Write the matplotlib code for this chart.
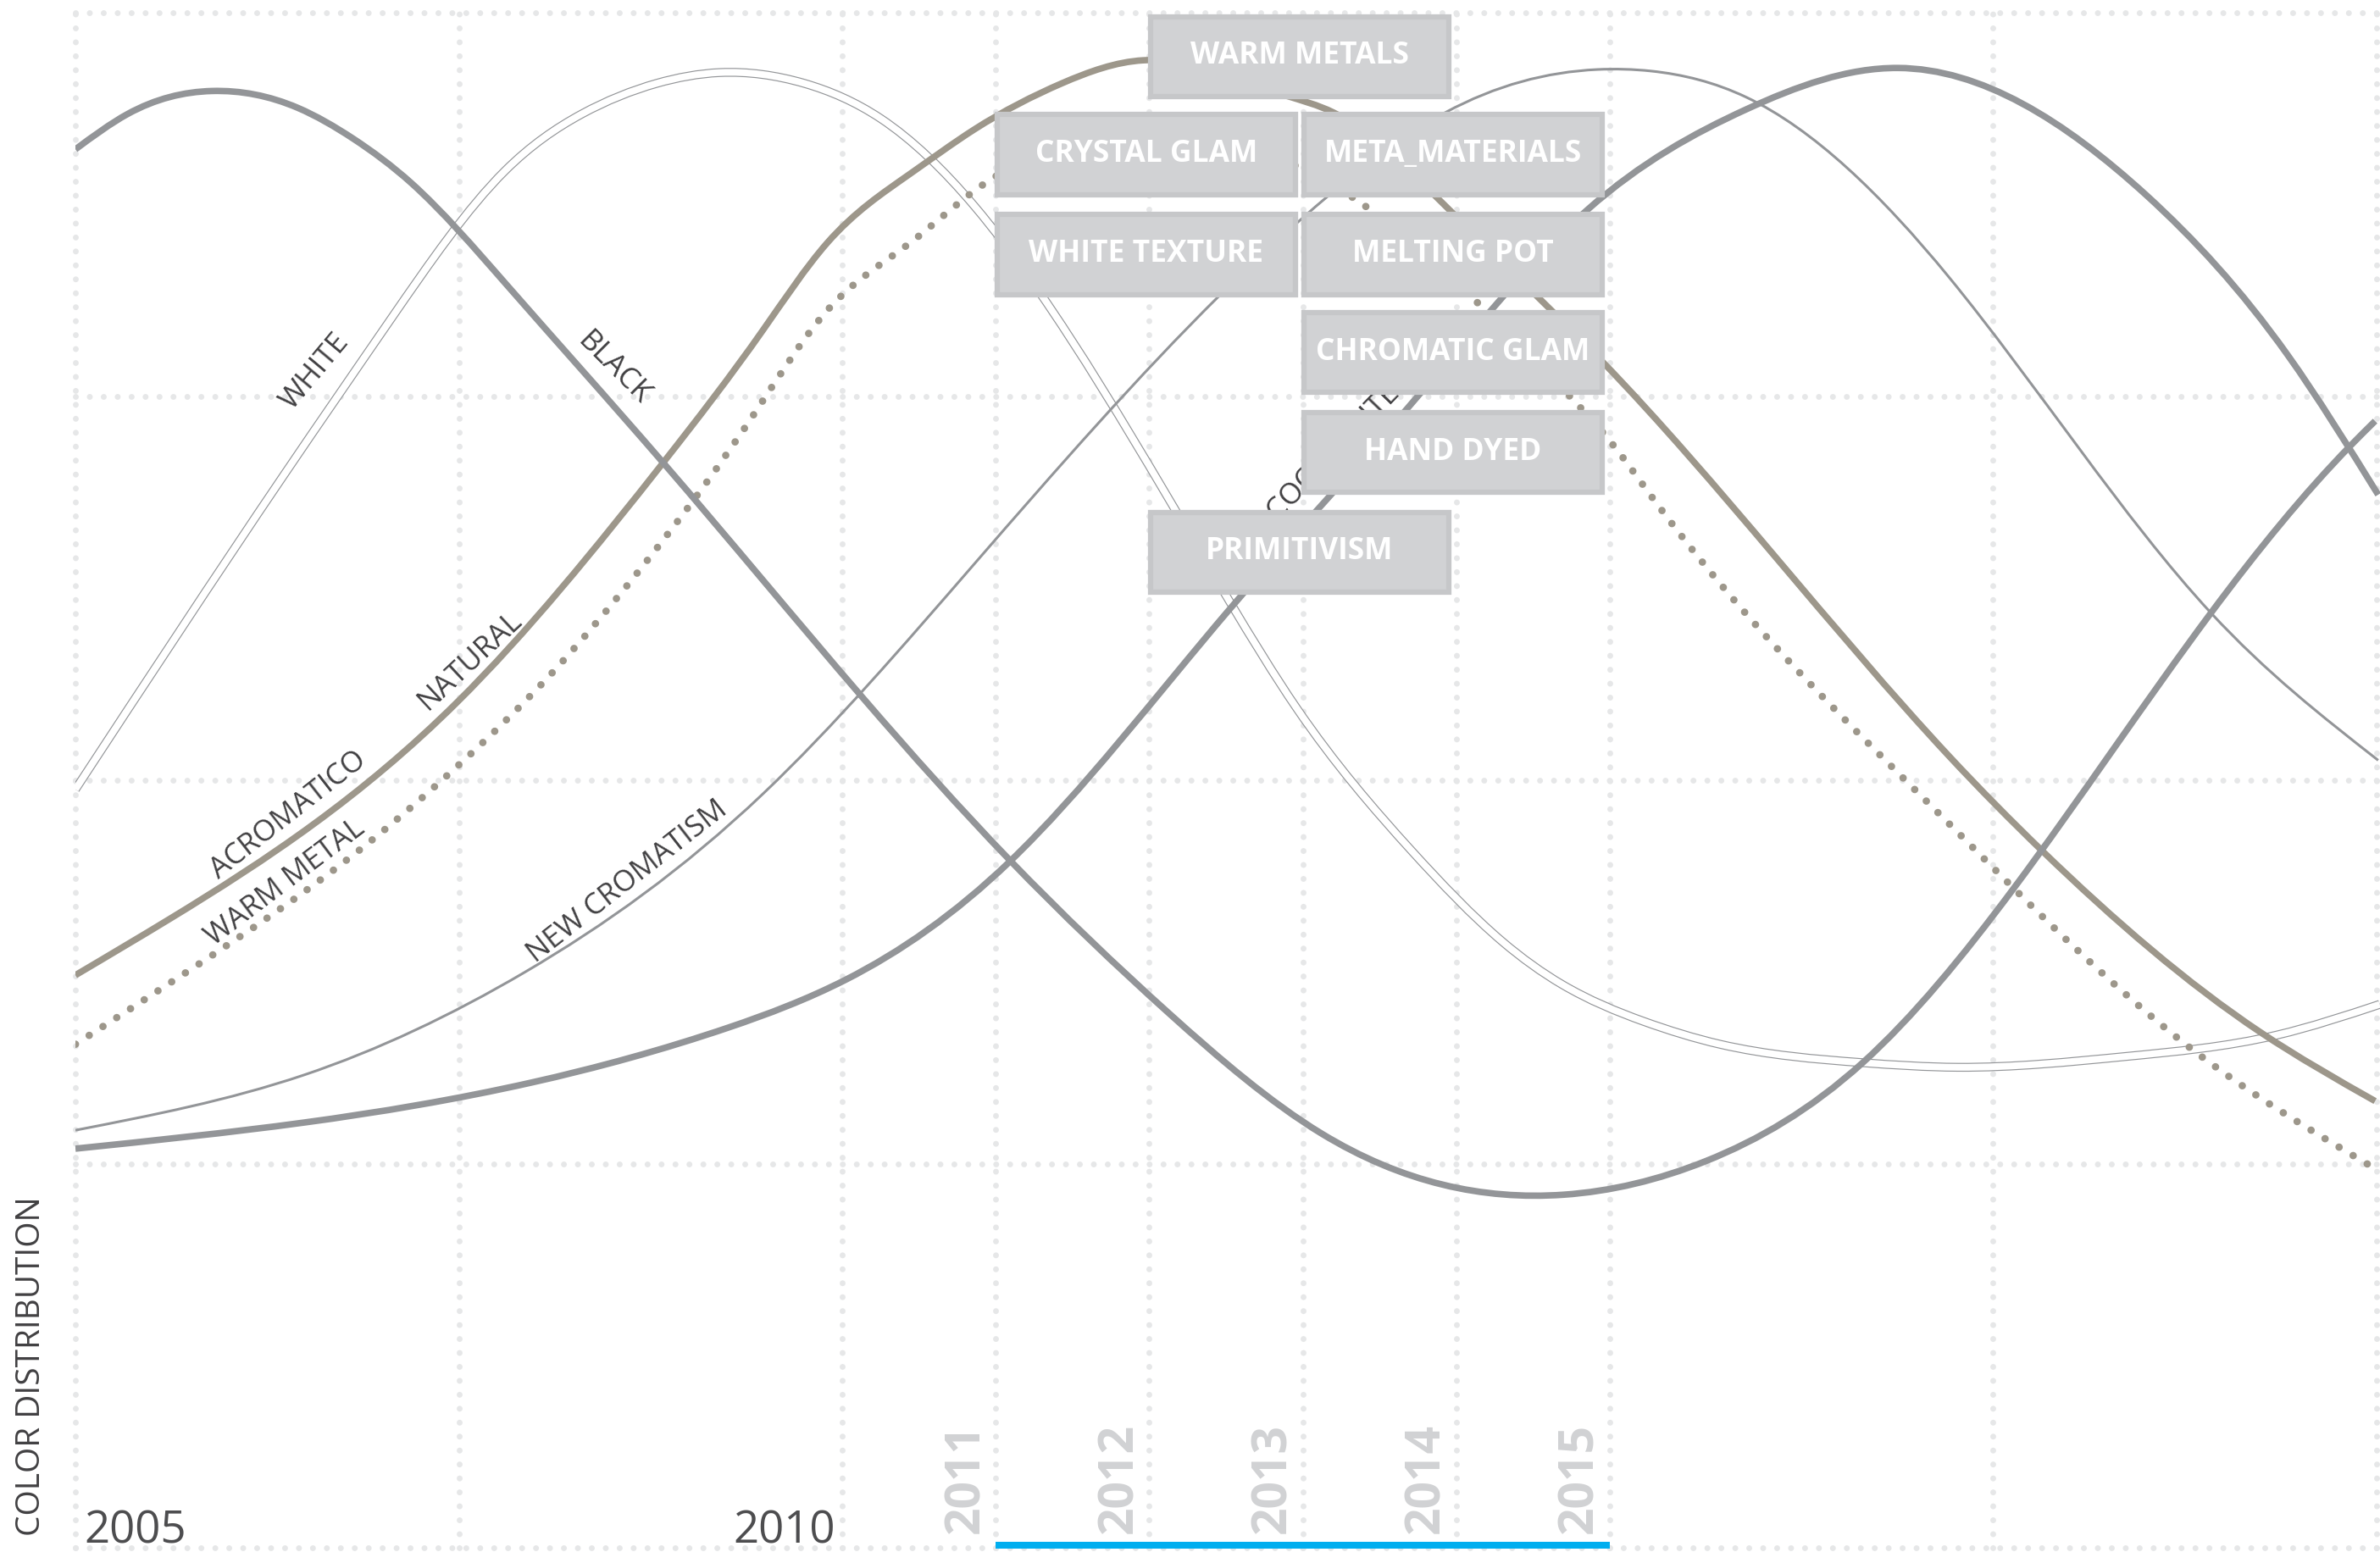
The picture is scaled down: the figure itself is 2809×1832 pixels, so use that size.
"""Color distribution trend chart, 2005-2020."""

import numpy as np
import matplotlib
matplotlib.use("Agg")
from matplotlib import pyplot as plt
from matplotlib.path import Path
from matplotlib.patches import PathPatch, Rectangle
import matplotlib.transforms as mtransforms

plt.rcParams['font.family'] = ['Open Sans', 'DejaVu Sans']

# ---- data (year, share of color distribution 0-100) ----
black_x = [2005.0, 2005.34, 2005.89, 2006.45, 2006.81, 2007.19, 2007.80, 2008.83, 2010.13,
           2011.09, 2012.13, 2013.12, 2014.70, 2015.63, 2016.65, 2017.63, 2018.92,
           2019.83, 2019.99]
black_y = [91.1, 93.4, 94.9, 93.8, 91.8, 88.9, 82.4, 70.7, 55.4,
           44.8, 34.8, 27.0, 23.0, 25.2, 31.6, 42.9, 60.9,
           71.8, 73.4]

white_x = [2005.0, 2006.36, 2007.06, 2007.80, 2008.30, 2008.79, 2009.20, 2009.75, 2010.25,
           2010.86, 2012.52, 2012.96, 2013.71, 2014.30, 2014.69, 2015.22, 2015.72, 2016.65,
           2017.27, 2018.36, 2019.35, 2020.02]
white_y = [49.4, 69.9, 80.1, 89.7, 93.4, 95.4, 96.1, 95.4, 93.1,
           87.4, 61.7, 54.7, 45.4, 39.5, 36.7, 34.3, 32.8, 31.6,
           31.3, 32.0, 33.4, 35.4]

natural_x = [2005.0, 2005.62, 2007.49, 2008.84, 2009.48, 2009.90, 2010.44, 2010.86, 2011.43,
             2011.96, 2012.89, 2013.20, 2013.85, 2014.52, 2014.95, 2017.21, 2017.82,
             2019.24, 2019.99]
natural_y = [37.3, 41.0, 55.1, 70.8, 79.3, 85.0, 89.5, 92.4, 95.4,
             96.9, 94.6, 93.5, 88.2, 81.6, 77.3, 51.6, 45.4,
             33.6, 29.1]

warm_metal_x = [2005.0, 2005.74, 2006.92, 2007.51, 2008.08, 2008.67, 2009.07, 2009.44, 2009.90,
                2010.44, 2010.86, 2012.03, 2012.96, 2013.35, 2014.14, 2014.78, 2015.05,
                2015.25, 2017.21, 2017.61, 2018.78, 2019.99]
warm_metal_y = [32.8, 37.6, 46.0, 51.1, 56.7, 63.6, 68.8, 74.1, 80.6,
                85.0, 88.4, 92.1, 90.0, 87.8, 81.1, 74.6, 71.5,
                68.8, 47.2, 43.2, 32.6, 24.7]

new_cromatism_x = [2005.0, 2006.49, 2007.93, 2009.48, 2010.86, 2012.46, 2013.17, 2013.93,
                   2014.92, 2015.27, 2015.89, 2017.21, 2018.92, 2020.01]
new_cromatism_y = [27.2, 30.8, 37.5, 49.1, 64.1, 81.6, 88.1, 93.5,
                   96.3, 96.2, 94.5, 82.8, 60.9, 51.3]

cool_white_x = [2005.0, 2006.49, 2007.97, 2009.26, 2010.02, 2011.09, 2012.52, 2013.68,
                2014.86, 2015.89, 2016.88, 2018.50, 2019.42, 2020.01]
cool_white_y = [26.0, 27.7, 30.3, 33.9, 37.0, 44.7, 61.1, 74.2,
                87.2, 93.7, 96.4, 88.1, 77.7, 68.6]

curve_labels = ['WHITE', 'BLACK', 'NATURAL', 'ACROMATICO', 'WARM METAL', 'NEW CROMATISM',
                'COOL WHITE']
trend_boxes = ['WARM METALS', 'CRYSTAL GLAM', 'META_MATERIALS', 'WHITE TEXTURE',
               'MELTING POT', 'CHROMATIC GLAM', 'HAND DYED', 'PRIMITIVISM']
major_years = [2005, 2010]
focus_years = [2011, 2012, 2013, 2014, 2015]

# ---- layout ----
GRID_X = [2005, 2007.5, 2010, 2011, 2012, 2013, 2014, 2015, 2017.5, 2020]
GRID_Y = [0, 25, 50, 75, 100]
LABEL_POS = [(2006.56, 76.6, 50), (2008.51, 76.8, -45), (2007.57, 57.8, 43),
             (2006.39, 47.7, 38), (2006.37, 43.3, 37), (2008.60, 43.4, 38),
             (2013.20, 71.3, 46)]
BOX_SLOTS = [(2012, 0), (2011, 1), (2013, 1), (2011, 2), (2013, 2), (2013, 3), (2013, 4),
             (2012, 5)]
BOX_TOPS = [99.9, 93.5, 87.0, 80.6, 74.1, 67.6]
BOX_W, BOX_H = 1.96, 5.35

GREY = '#939598'
TAUPE = '#9d978b'
GRID_C = '#e6e7e8'
TEXT_C = '#414042'


def spline_slopes(x, y):
    """Knot slopes of the natural cubic spline through (x, y)."""
    n = len(x)
    h = np.diff(x)
    d = np.diff(y) / h
    A = np.zeros((n, n))
    b = np.zeros(n)
    A[0, 0] = A[-1, -1] = 1.0
    for i in range(1, n - 1):
        A[i, i - 1] = h[i - 1]
        A[i, i] = 2 * (h[i - 1] + h[i])
        A[i, i + 1] = h[i]
        b[i] = 6 * (d[i] - d[i - 1])
    M = np.linalg.solve(A, b)
    m = np.empty(n)
    m[:-1] = d - h * (2 * M[:-1] + M[1:]) / 6
    m[-1] = d[-1] + h[-1] * (M[-2] + 2 * M[-1]) / 6
    return m


def smooth_path(xs, ys):
    """Bezier path of the cubic spline through the given points."""
    x = np.asarray(xs, float)
    y = np.asarray(ys, float)
    m = spline_slopes(x, y)
    verts = [(x[0], y[0])]
    codes = [Path.MOVETO]
    for i in range(len(x) - 1):
        h = x[i + 1] - x[i]
        verts += [(x[i] + h / 3, y[i] + m[i] * h / 3),
                  (x[i + 1] - h / 3, y[i + 1] - m[i + 1] * h / 3),
                  (x[i + 1], y[i + 1])]
        codes += [Path.CURVE4] * 3
    return Path(verts, codes)


def draw_curve(ax, xs, ys, **kw):
    ax.add_patch(PathPatch(smooth_path(xs, ys), fill=False, **kw))


fig = plt.figure(figsize=(28.09, 18.32), dpi=100)
ax = fig.add_axes([89 / 2809, 5 / 1832, 2720 / 2809, 1812 / 1832])
ax.set_xlim(2005, 2005 + 2720 / 181.07)
ax.set_ylim(0, 100)
ax.axis('off')

# grid of round dots
for gx in GRID_X:
    ax.axvline(gx, color=GRID_C, lw=5, ls=(0, (0.01, 2.36)), dash_capstyle='round',
               clip_on=False, zorder=1)
for gy in GRID_Y:
    ax.axhline(gy, color=GRID_C, lw=5, ls=(0, (0.01, 2.36)), dash_capstyle='round',
               clip_on=False, zorder=1)

# curves
draw_curve(ax, white_x, white_y, edgecolor=GREY, lw=7.5, zorder=2)
draw_curve(ax, white_x, white_y, edgecolor='white', lw=5.8, zorder=2.1)
draw_curve(ax, new_cromatism_x, new_cromatism_y, edgecolor=GREY, lw=2.2, zorder=2.2)
draw_curve(ax, warm_metal_x, warm_metal_y, edgecolor=TAUPE, lw=6.3,
           linestyle=(0, (0.01, 2.2)), capstyle='round', zorder=2.3)
draw_curve(ax, natural_x, natural_y, edgecolor=TAUPE, lw=5.5, zorder=2.4)
draw_curve(ax, cool_white_x, cool_white_y, edgecolor=GREY, lw=5.5, zorder=2.5)
draw_curve(ax, black_x, black_y, edgecolor=GREY, lw=5.5, zorder=2.6)

# curve names
for name, (lx, ly, rot) in zip(curve_labels, LABEL_POS):
    ax.text(lx, ly, name, rotation=rot, rotation_mode='anchor', ha='center', va='center',
            fontsize=25, color=TEXT_C, zorder=4)

# trend boxes
for name, (left, row) in zip(trend_boxes, BOX_SLOTS):
    top = BOX_TOPS[row]
    ax.add_patch(Rectangle((left + 0.01, top - BOX_H), BOX_W - 0.02, BOX_H - 0.15,
                           facecolor='#d1d2d4', edgecolor='#c6c7c9', lw=4.5, zorder=5))
    ax.text(left + BOX_W / 2, top - BOX_H / 2 - 0.05, name, ha='center', va='center',
            fontsize=25.5, fontweight='bold', color='white', zorder=6)

# year labels
for yr in major_years:
    dx = 10 if yr == major_years[0] else -8
    tr = mtransforms.offset_copy(ax.transData, fig=fig, x=dx, y=0, units='dots')
    ax.text(yr, 0.3, str(yr), transform=tr, ha='left' if dx > 0 else 'right',
            va='baseline', fontsize=38, color='#4d4d4f', zorder=6)
for yr in focus_years:
    tr = mtransforms.offset_copy(ax.transData, fig=fig, x=-6, y=0, units='dots')
    ax.text(yr, 0.94, str(yr), transform=tr, rotation=90, ha='right', va='bottom',
            fontsize=41, fontweight='bold', color='#d1d2d4', zorder=6)

ax.plot([focus_years[0], focus_years[-1]], [0.17, 0.17], color='#00aeef', lw=5.8,
        solid_capstyle='butt', clip_on=False, zorder=7)

fig.text(37 / 2809, 19 / 1832, 'COLOR DISTRIBUTION', rotation=90, ha='center', va='bottom',
         fontsize=28, color=TEXT_C)

fig.savefig('out.png', dpi=100)
plt.close(fig)
